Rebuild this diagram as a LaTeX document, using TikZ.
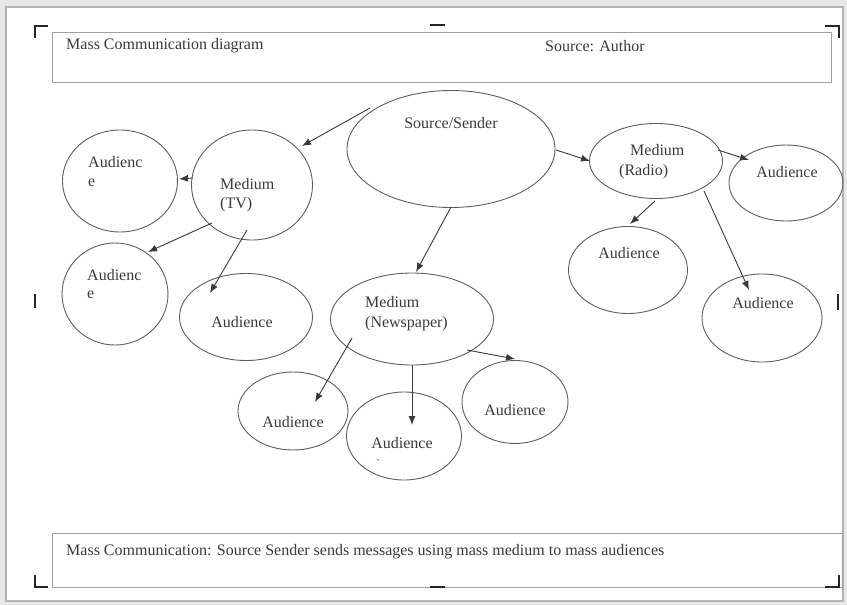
\documentclass[tikz,border=0pt]{standalone}
\usepackage{fontspec}
\setmainfont{Liberation Serif}
\usetikzlibrary{shapes.geometric,arrows.meta}

\definecolor{ink}{HTML}{3A3A3A}
\definecolor{edge}{HTML}{5E5E5E}

\tikzset{
  bubble/.style={draw=edge, line width=0.9pt, ellipse, inner sep=0pt},
  txt/.style={text=ink, font=\fontsize{16}{21}\selectfont, inner sep=0pt},
  flow/.style={draw=ink, line width=0.9pt, -{Latex[length=9pt,width=7pt]}},
  frame/.style={draw=gray!75, line width=1pt},
  cropmark/.style={draw=black!85, line width=2.6pt},
}

\begin{document}
\begin{tikzpicture}[x=1pt,y=-1pt]
  % page and bounding box
  \fill[gray!18] (0,0) rectangle (847,605);
  \useasboundingbox (0,0) rectangle (847,605);
  \filldraw[fill=white, draw=gray!60, line width=1.2pt] (6,7) rectangle (843,601);

  % header and footer boxes
  \draw[frame] (52,32) rectangle (831,82);
  \draw[frame] (52,533) rectangle (842,587);
  \node[txt, anchor=west] (title) at (66,46) {Mass Communication diagram};
  \node[txt, anchor=west] (source) at (545,46) {Source: Author};
  \node[txt, anchor=west] (caption) at (66,552) {Mass Communication: Source Sender sends messages using mass medium to mass audiences};

  % frame corner marks and handles
  \draw[cropmark] (48,26) -- (35,26) -- (35,38);
  \draw[cropmark] (825,26) -- (839,26) -- (839,38);
  \draw[cropmark] (35,575) -- (35,587) -- (48,587);
  \draw[cropmark] (839,575) -- (839,587) -- (825,587);
  \draw[cropmark] (430,25) -- (445,25);
  \draw[cropmark] (430,587) -- (445,587);
  \draw[cropmark] (35,294) -- (35,308);
  \draw[cropmark] (838,294) -- (838,310);

  % ellipses
  \node[bubble, minimum width=208pt, minimum height=117pt] (src) at (451,149) {};
  \node[bubble, minimum width=121pt, minimum height=110pt] (tv)  at (252,185) {};
  \node[bubble, minimum width=115pt, minimum height=102pt] (a1)  at (120,181) {};
  \node[bubble, minimum width=106pt, minimum height=102pt] (a2)  at (115,294) {};
  \node[bubble, minimum width=133pt, minimum height=87pt]  (a3)  at (246,317) {};
  \node[bubble, minimum width=163pt, minimum height=92pt]  (np)  at (412,319) {};
  \node[bubble, minimum width=110pt, minimum height=78pt]  (n1)  at (293,411) {};
  \node[bubble, minimum width=115pt, minimum height=88pt]  (n2)  at (404,436) {};
  \node[bubble, minimum width=106pt, minimum height=83pt]  (n3)  at (515,402) {};
  \node[bubble, minimum width=133pt, minimum height=75pt]  (rad) at (656,161) {};
  \node[bubble, minimum width=114pt, minimum height=76pt]  (r1)  at (786,183) {};
  \node[bubble, minimum width=119pt, minimum height=87pt]  (r2)  at (628,270) {};
  \node[bubble, minimum width=120pt, minimum height=88pt]  (r3)  at (762,318) {};

  % labels inside the ellipses
  \node[txt] (tsrc) at (451,123) {Source/Sender};
  \node[txt, anchor=west] (ttv1) at (220,184) {Medium};
  \node[txt, anchor=west] (ttv2) at (220,205) {(TV)};
  \node[txt, anchor=west] (ta1a) at (88,162) {Audienc};
  \node[txt, anchor=west] (ta1b) at (88,183) {e};
  \node[txt, anchor=west] (ta2a) at (87,275) {Audienc};
  \node[txt, anchor=west] (ta2b) at (87,295) {e};
  \node[txt] (ta3) at (242,322) {Audience};
  \node[txt, anchor=west] (tnp1) at (365,302) {Medium};
  \node[txt, anchor=west] (tnp2) at (365,324) {(Newspaper)};
  \node[txt] (tn1) at (293,422) {Audience};
  \node[txt] (tn2) at (402,443) {Audience};
  \node[txt, font=\fontsize{9}{9}\selectfont] (tn2b) at (378,461) {-};
  \node[txt] (tn3) at (515,410) {Audience};
  \node[txt, anchor=west] (trad1) at (630,150) {Medium};
  \node[txt, anchor=west] (trad2) at (619,172) {(Radio)};
  \node[txt] (tr1) at (787,172) {Audience};
  \node[txt] (tr2) at (629,253) {Audience};
  \node[txt] (tr3) at (763,303) {Audience};

  % connectors
  \draw[flow] ([shift={(-81,-41)}]src.center) -- ([shift={(50,-39)}]tv.center);
  \draw[flow] ([shift={(-59,-7)}]tv.center) -- ([shift={(59,-2)}]a1.center);
  \draw[flow] ([shift={(-40,38)}]tv.center) -- ([shift={(33,-42)}]a2.center);
  \draw[flow] ([shift={(-5,45)}]tv.center) -- ([shift={(-36,-24)}]a3.center);
  \draw[flow] ([shift={(0,58)}]src.center) -- ([shift={(4,-47)}]np.center);
  \draw[flow] ([shift={(105,1)}]src.center) -- ([shift={(-66,0)}]rad.center);
  \draw[flow] ([shift={(62,-11)}]rad.center) -- ([shift={(-37,-23)}]r1.center);
  \draw[flow] ([shift={(-1,40)}]rad.center) -- ([shift={(2,-46)}]r2.center);
  \draw[flow] ([shift={(48,30)}]rad.center) -- ([shift={(-13,-28)}]r3.center);
  \draw[flow] ([shift={(-60,19)}]np.center) -- ([shift={(22,-9)}]n1.center);
  \draw[flow] ([shift={(0,46)}]np.center) -- ([shift={(8,-11)}]n2.center);
  \draw[flow] ([shift={(55,31)}]np.center) -- ([shift={(0,-43)}]n3.center);
\end{tikzpicture}
\end{document}
